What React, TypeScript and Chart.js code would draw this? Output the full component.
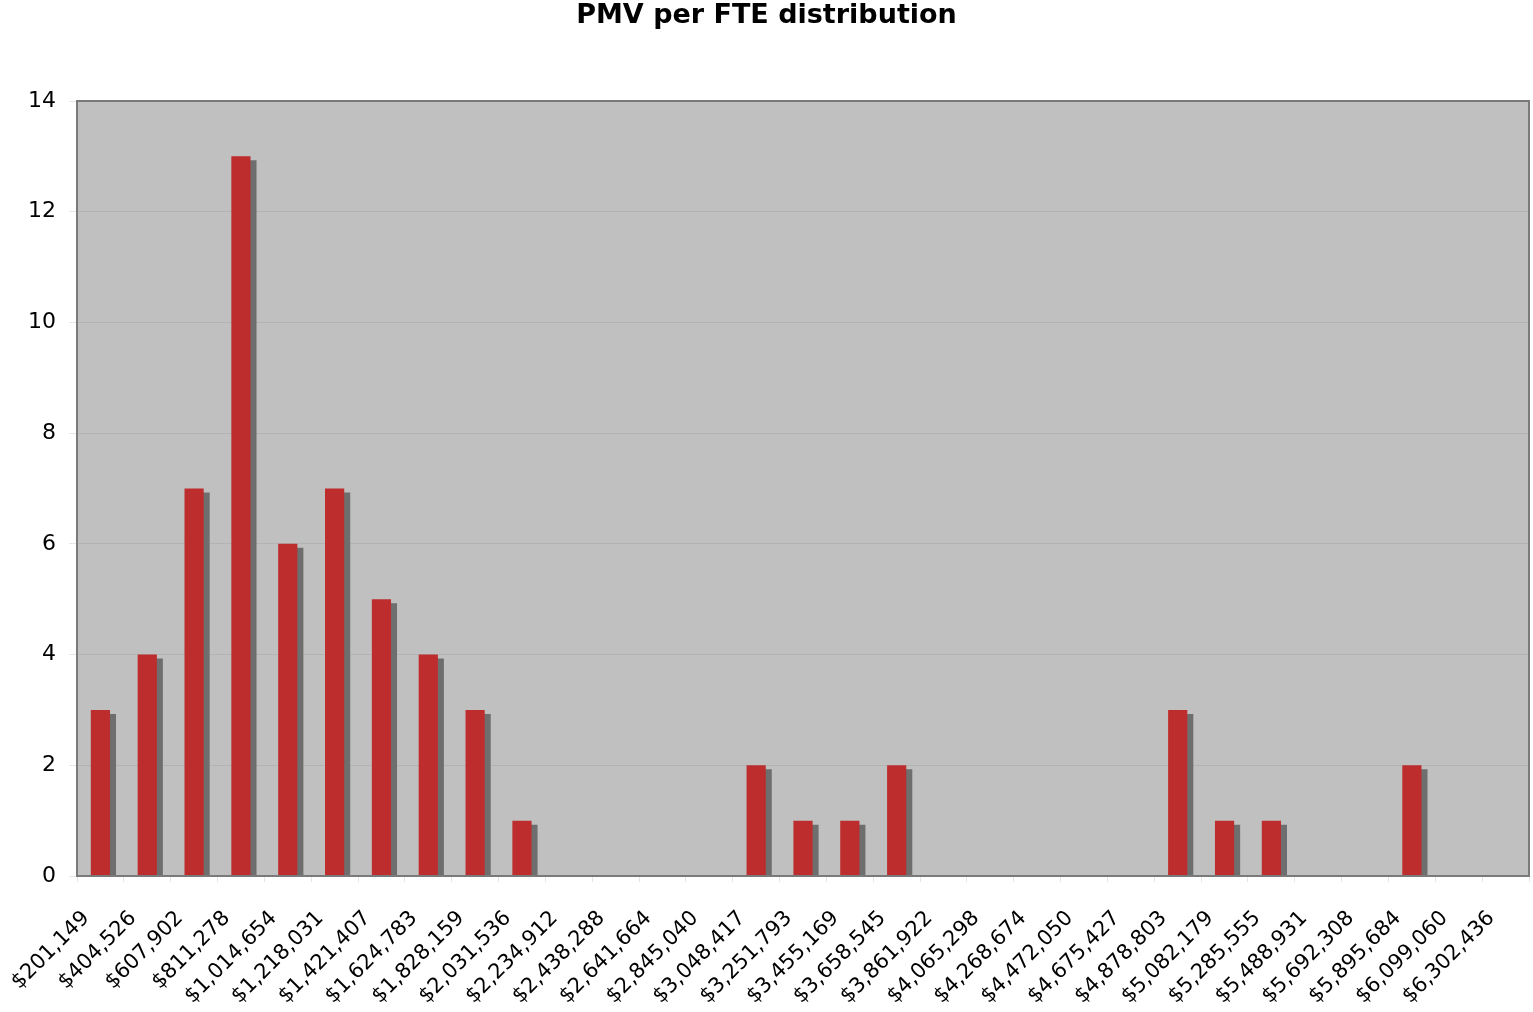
import React, { useEffect, useRef } from "react";
import { Chart, registerables } from "chart.js";

Chart.register(...registerables);

const categories = [
  "$201,149", "$404,526", "$607,902", "$811,278", "$1,014,654", "$1,218,031",
  "$1,421,407", "$1,624,783", "$1,828,159", "$2,031,536", "$2,234,912", "$2,438,288",
  "$2,641,664", "$2,845,040", "$3,048,417", "$3,251,793", "$3,455,169", "$3,658,545",
  "$3,861,922", "$4,065,298", "$4,268,674", "$4,472,050", "$4,675,427", "$4,878,803",
  "$5,082,179", "$5,285,555", "$5,488,931", "$5,692,308", "$5,895,684", "$6,099,060",
  "$6,302,436",
];
const counts = [3, 4, 7, 13, 6, 7, 5, 4, 3, 1, 0, 0, 0, 0, 2, 1, 1, 2, 0, 0, 0, 0, 0, 3, 1, 1, 0, 0, 2, 0, 0];
const titleText = "PMV per FTE distribution";
const yMax = 14;
const yStep = 2;

const FONT = "Verdana, 'DejaVu Sans', sans-serif";

const chartDecor = {
  id: "chartDecor",
  beforeDraw(chart: any) {
    const { ctx, chartArea } = chart;
    ctx.save();
    ctx.fillStyle = "#c0c0c0";
    ctx.fillRect(chartArea.left, chartArea.top, chartArea.right - chartArea.left, chartArea.bottom - chartArea.top);
    ctx.restore();
    ctx.save();
    ctx.fillStyle = "#000";
    ctx.font = `bold 27px ${FONT}`;
    ctx.textAlign = "center";
    ctx.textBaseline = "middle";
    ctx.fillText(titleText, chart.width / 2, 16);
    ctx.restore();
  },
  beforeDatasetsDraw(chart: any) {
    const ctx = chart.ctx;
    ctx.save();
    ctx.shadowColor = "#6e6e6e";
    ctx.shadowOffsetX = 6;
    ctx.shadowOffsetY = 4;
    ctx.shadowBlur = 0;
  },
  afterDatasetsDraw(chart: any) {
    chart.ctx.restore();
  },
  afterDraw(chart: any) {
    const { ctx, chartArea } = chart;
    ctx.save();
    ctx.strokeStyle = "#7a7a7a";
    ctx.lineWidth = 2;
    ctx.strokeRect(chartArea.left, chartArea.top, chartArea.right - chartArea.left, chartArea.bottom - chartArea.top);
    ctx.restore();
  },
};

export default function App() {
  const ref = useRef<HTMLCanvasElement>(null);
  useEffect(() => {
    document.body.style.margin = "0";
    const chart = new Chart(ref.current!, {
      type: "bar",
      data: {
        labels: categories,
        datasets: [
          {
            data: counts,
            backgroundColor: "#bd2d2d",
            borderWidth: 0,
            barPercentage: 0.41,
            categoryPercentage: 1,
          },
        ],
      },
      options: {
        animation: false,
        responsive: false,
        devicePixelRatio: 1,
        layout: { padding: { top: 101, right: 4, left: 0, bottom: 0 } },
        plugins: { legend: { display: false }, title: { display: false }, tooltip: { enabled: false } },
        scales: {
          x: {
            offset: true,
            grid: { offset: true, drawOnChartArea: false, tickLength: 6, tickColor: "#e6e6e6", color: "#e6e6e6" },
            border: { display: false },
            ticks: {
              color: "#000",
              font: { family: FONT, size: 21 },
              minRotation: 45,
              maxRotation: 45,
              autoSkip: false,
              padding: 10,
              callback: (_v: any, i: number) => categories[i] + "   ",
            },
            afterFit(scale: any) {
              scale.height = 136;
              scale.paddingLeft = 0;
              scale.paddingRight = 0;
            },
          },
          y: {
            min: 0,
            max: yMax,
            ticks: { stepSize: yStep, color: "#000", font: { family: FONT, size: 22 }, padding: 13 },
            grid: { color: "#b3b3b3", tickLength: 8, tickColor: "#e6e6e6" },
            border: { display: false },
            afterFit(scale: any) {
              scale.width = 77;
            },
          },
        },
      },
      plugins: [chartDecor],
    });
    return () => chart.destroy();
  }, []);
  return <canvas ref={ref} width={1533} height={1012} style={{ display: "block" }} />;
}
